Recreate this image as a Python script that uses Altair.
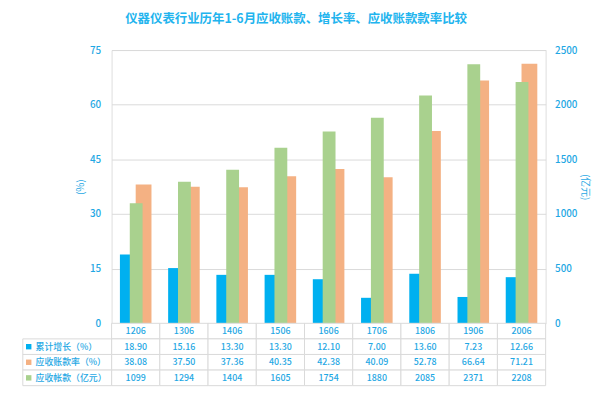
import altair as alt
import pandas as pd

# ---- data ----
categories = ["1206", "1306", "1406", "1506", "1606", "1706", "1806", "1906", "2006"]
growth = [18.90, 15.16, 13.30, 13.30, 12.10, 7.00, 13.60, 7.23, 12.66]          # 累计增长（%）
ratio = [38.08, 37.50, 37.36, 40.35, 42.38, 40.09, 52.78, 66.64, 71.21]          # 应收账款率（%）
receivable = [1099, 1294, 1404, 1605, 1754, 1880, 2085, 2371, 2208]              # 应收帐款（亿元）
row_labels = ["累计增长（%）", "应收账款率（%）", "应收帐款（亿元）"]
left_ticks = [0, 15, 30, 45, 60, 75]
right_ticks = [0, 500, 1000, 1500, 2000, 2500]
title_text = "仪器仪表行业历年1-6月应收账款、增长率、应收账款款率比较"

# ---- style ----
BLUE, ORANGE, GREEN = "#00B0F0", "#F4B183", "#A9D18E"
TXT = "#1FA8E4"
GRID = "#D9D9D9"
FONT = "Noto Sans CJK SC"
W, H = 440, 277
ROW_H = 15.8

df = pd.DataFrame({"cat": categories, "growth": growth, "ratio": ratio, "recv": receivable})

row_keys = ["年份"] + row_labels
tbl_rows = []
for i, c in enumerate(categories):
    tbl_rows.append({"cat": c, "row": row_keys[0], "text": c})
    tbl_rows.append({"cat": c, "row": row_keys[1], "text": f"{growth[i]:.2f}"})
    tbl_rows.append({"cat": c, "row": row_keys[2], "text": f"{ratio[i]:.2f}"})
    tbl_rows.append({"cat": c, "row": row_keys[3], "text": f"{receivable[i]}"})
tbl = pd.DataFrame(tbl_rows)
head = pd.DataFrame({"row": row_labels, "color": [BLUE, ORANGE, GREEN]})

xenc = alt.X("cat:N", sort=categories,
             scale=alt.Scale(paddingInner=0, paddingOuter=0), axis=None)

left_axis = alt.Axis(orient="left", values=left_ticks, title="(%)", grid=True,
                     gridColor=GRID, domain=False, ticks=False, labelPadding=11,
                     labelColor=TXT, labelFont=FONT, labelFontSize=10, labelFontWeight=500,
                     titleColor=TXT, titleFont=FONT, titleFontSize=10,
                     titleFontWeight="normal", titleX=-26)
right_axis = alt.Axis(orient="right", values=right_ticks, title="(亿元)", grid=False,
                      format="d", domain=False, ticks=False, labelPadding=9,
                      labelColor=TXT, labelFont=FONT, labelFontSize=10, labelFontWeight=500,
                      titleColor=TXT, titleFont=FONT, titleFontSize=10,
                      titleFontWeight="normal", titleX=34)

pct_scale = alt.Scale(domain=[0, 75], nice=False)

base = alt.Chart(df)
blue = base.mark_bar(color=BLUE, width=16, xOffset=-8).encode(
    x=xenc,
    y=alt.Y("growth:Q", scale=pct_scale, axis=left_axis),
)
orange = base.mark_bar(color=ORANGE, width=16, xOffset=8).encode(
    x=xenc,
    y=alt.Y("ratio:Q", scale=pct_scale, axis=left_axis),
)
green = base.mark_bar(color=GREEN, width=13, xOffset=0.5).encode(
    x=xenc,
    y=alt.Y("recv:Q", scale=alt.Scale(domain=[0, 2500], nice=False), axis=right_axis),
)

yrow = alt.Y("row:N", sort=row_keys,
             scale=alt.Scale(domain=row_keys, range=[H, H + ROW_H * 4],
                             paddingInner=0, paddingOuter=0),
             axis=None)

cells = alt.Chart(tbl).mark_rect(fill="white", stroke=GRID, strokeWidth=1).encode(x=xenc, y=yrow)
cell_text = alt.Chart(tbl).mark_text(color=TXT, font=FONT, fontSize=9, fontWeight=500).encode(
    x=xenc, y=yrow, text="text:N")
head_cells = alt.Chart(head).mark_rect(fill="white", stroke=GRID, strokeWidth=1).encode(
    x=alt.value(-90), x2=alt.value(0), y=yrow)
head_sq = alt.Chart(head).mark_square(size=30, opacity=1, filled=True).encode(
    x=alt.value(-84), y=yrow, color=alt.Color("color:N", scale=None))
head_txt = alt.Chart(head).mark_text(align="left", color=TXT, font=FONT, fontSize=9,
                                     fontWeight=500).encode(
    x=alt.value(-77), y=yrow, text="row:N")

table = alt.layer(cells, cell_text, head_cells, head_sq, head_txt)

chart = alt.layer(alt.layer(blue, orange), green, table).resolve_scale(
    y="independent"
).properties(
    width=W, height=H,
    title=alt.TitleParams(text=title_text, anchor="middle", dx=-33, offset=20,
                          font=FONT, fontSize=12.6, fontWeight="bold", color="#22B4EE"),
    autosize=alt.AutoSizeParams(type="none"),
    padding={"left": 105, "top": 40, "right": 47, "bottom": 66},
).configure_view(stroke=None).configure(background="white")

chart.save("out.html", embed_options={"renderer": "svg", "actions": False})
